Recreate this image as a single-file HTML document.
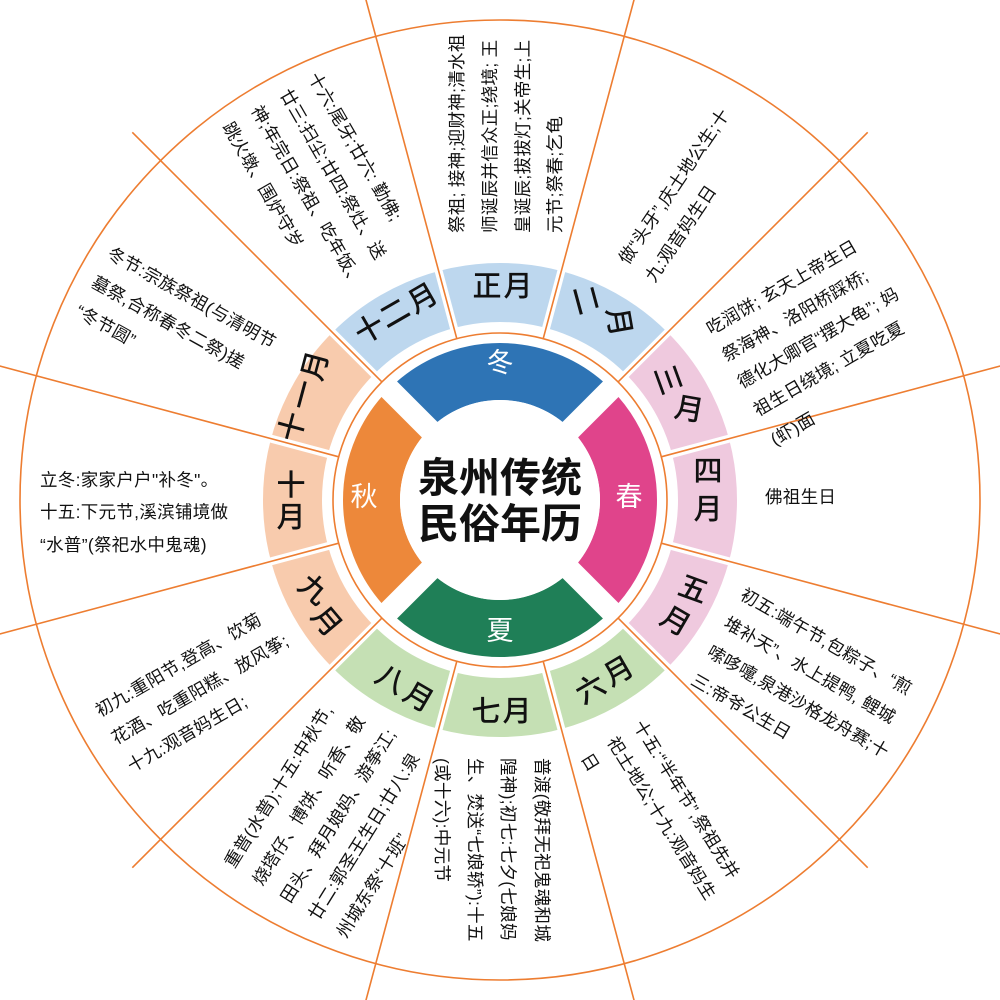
<!DOCTYPE html>
<html><head><meta charset="utf-8"><style>
html,body{margin:0;padding:0;background:#fff;}
svg{display:block;}
text{font-family:"Liberation Sans","Noto Sans CJK SC",sans-serif;}
.d{font-size:17.5px;letter-spacing:0.3px;fill:#111;dominant-baseline:central;}
.m{font-size:29px;font-weight:500;fill:#111;text-anchor:middle;dominant-baseline:central;}
.s{font-size:27px;fill:#fff;text-anchor:middle;dominant-baseline:central;}
</style></head><body>
<svg width="1000" height="1000" viewBox="0 0 1000 1000" xmlns="http://www.w3.org/2000/svg">
<rect width="1000" height="1000" fill="#fff"/>
<g fill="none" stroke-width="59">
<circle cx="500" cy="500" r="207.5" stroke="#bdd7ee" stroke-dasharray="325.94 977.82" transform="rotate(-135 500 500)"/>
<circle cx="500" cy="500" r="207.5" stroke="#efc9de" stroke-dasharray="325.94 977.82" transform="rotate(-45 500 500)"/>
<circle cx="500" cy="500" r="207.5" stroke="#c5e0b4" stroke-dasharray="325.94 977.82" transform="rotate(45 500 500)"/>
<circle cx="500" cy="500" r="207.5" stroke="#f8cbad" stroke-dasharray="325.94 977.82" transform="rotate(135 500 500)"/>
</g>
<g stroke="#fff" stroke-width="8">
<line x1="500" y1="500" x2="563.4" y2="263.4"/><line x1="500" y1="500" x2="673.2" y2="326.8"/>
<line x1="500" y1="500" x2="736.6" y2="436.6"/><line x1="500" y1="500" x2="736.6" y2="563.4"/>
<line x1="500" y1="500" x2="673.2" y2="673.2"/><line x1="500" y1="500" x2="563.4" y2="736.6"/>
<line x1="500" y1="500" x2="436.6" y2="736.6"/><line x1="500" y1="500" x2="326.8" y2="673.2"/>
<line x1="500" y1="500" x2="263.4" y2="563.4"/><line x1="500" y1="500" x2="263.4" y2="436.6"/>
<line x1="500" y1="500" x2="326.8" y2="326.8"/><line x1="500" y1="500" x2="436.6" y2="263.4"/>
</g>
<circle cx="500" cy="500" r="172" fill="#fff"/>
<g fill="none" stroke-width="57">
<circle cx="500" cy="500" r="128.5" stroke="#2e74b5" stroke-dasharray="201.85 605.55" transform="rotate(-135 500 500)"/>
<circle cx="500" cy="500" r="128.5" stroke="#e0448b" stroke-dasharray="201.85 605.55" transform="rotate(-45 500 500)"/>
<circle cx="500" cy="500" r="128.5" stroke="#1f7f57" stroke-dasharray="201.85 605.55" transform="rotate(45 500 500)"/>
<circle cx="500" cy="500" r="128.5" stroke="#ed883a" stroke-dasharray="201.85 605.55" transform="rotate(135 500 500)"/>
</g>
<g stroke="#fff" stroke-width="22">
<line x1="385.4" y1="385.4" x2="614.6" y2="614.6"/>
<line x1="614.6" y1="385.4" x2="385.4" y2="614.6"/>
</g>
<circle cx="500" cy="500" r="100" fill="#fff"/>
<g fill="none" stroke="#ed7d31" stroke-width="1.6">
<circle cx="500" cy="500" r="167"/>
<circle cx="500" cy="500" r="480"/>
<line x1="543.2" y1="338.7" x2="634.6" y2="-2.3"/>
<line x1="618.1" y1="381.9" x2="867.7" y2="132.3"/>
<line x1="661.3" y1="456.8" x2="1002.3" y2="365.4"/>
<line x1="661.3" y1="543.2" x2="1002.3" y2="634.6"/>
<line x1="618.1" y1="618.1" x2="867.7" y2="867.7"/>
<line x1="543.2" y1="661.3" x2="634.6" y2="1002.3"/>
<line x1="456.8" y1="661.3" x2="365.4" y2="1002.3"/>
<line x1="381.9" y1="618.1" x2="132.3" y2="867.7"/>
<line x1="338.7" y1="543.2" x2="-2.3" y2="634.6"/>
<line x1="338.7" y1="456.8" x2="-2.3" y2="365.4"/>
<line x1="381.9" y1="381.9" x2="132.3" y2="132.3"/>
<line x1="456.8" y1="338.7" x2="365.4" y2="-2.3"/>
</g>
<text x="500" y="478" text-anchor="middle" dominant-baseline="central" font-size="41" font-weight="bold" fill="#111">泉州传统</text>
<text x="500" y="524" text-anchor="middle" dominant-baseline="central" font-size="41" font-weight="bold" fill="#111">民俗年历</text>
<text class="s" x="500" y="363">冬</text>
<text class="s" x="629" y="497">春</text>
<text class="s" x="500" y="631">夏</text>
<text class="s" x="364" y="497">秋</text>
<text class="m" x="487" y="287">正</text><text class="m" x="518" y="287">月</text>
<text class="m" transform="translate(585,300) rotate(75)">二</text><text class="m" transform="translate(618,322) rotate(80)">月</text>
<text class="m" transform="translate(667,380) rotate(70)">三</text><text class="m" transform="translate(689,410) rotate(10)">月</text>
<text class="m" x="708" y="472">四</text><text class="m" x="708" y="510">月</text>
<text class="m" transform="translate(693,590) rotate(20)">五</text><text class="m" transform="translate(675,622) rotate(30)">月</text>
<text class="m" transform="translate(591,690) rotate(-30)">六</text><text class="m" transform="translate(619,672) rotate(-30)">月</text>
<text class="m" x="486" y="712">七</text><text class="m" x="517" y="712">月</text>
<text class="m" transform="translate(390,680) rotate(30)">八</text><text class="m" transform="translate(418,698) rotate(30)">月</text>
<text class="m" transform="translate(313,590) rotate(40)">九</text><text class="m" transform="translate(326,622) rotate(50)">月</text>
<text class="m" x="291" y="486">十</text><text class="m" x="291" y="518">月</text>
<text class="m" transform="translate(293,427) rotate(-75)">十</text><text class="m" transform="translate(304,395) rotate(-75)">一</text><text class="m" transform="translate(316,366) rotate(-75)">月</text>
<text class="m" transform="translate(370,330) rotate(-30)">十</text><text class="m" transform="translate(395,314) rotate(-30)">二</text><text class="m" transform="translate(423,299) rotate(-30)">月</text>
<text class="d" transform="translate(457,233) rotate(-90)"><tspan x="0" y="0">祭祖; 接神;迎财神;清水祖</tspan><tspan x="0" y="33">师诞辰并信众正;绕境; 王</tspan><tspan x="0" y="66">皇诞辰;拔拔灯;关帝生;上</tspan><tspan x="0" y="98">元节;祭春;乞龟</tspan></text>
<text class="d" transform="translate(623,262) rotate(-56)"><tspan x="0" y="0">做“头牙”,庆土地公生;十</tspan><tspan x="0" y="32">九:观音妈生日</tspan></text>
<text class="d" transform="translate(708,330) rotate(-30)"><tspan x="0" y="0">吃润饼; 玄天上帝生日</tspan><tspan x="0" y="31">祭海神、洛阳桥踩桥;</tspan><tspan x="0" y="62">德化大卿官“摆大龟”; 妈</tspan><tspan x="0" y="94">祖生日绕境; 立夏吃夏</tspan><tspan x="0" y="128">(虾)面</tspan></text>
<text class="d" x="765" y="497">佛祖生日</text>
<text class="d" transform="translate(742,593) rotate(30)"><tspan x="0" y="0">初五:端午节,包粽子、“煎</tspan><tspan x="0" y="33">堆补天”、水上提鸭, 鲤城</tspan><tspan x="0" y="66">嗦哆嚏,泉港沙格龙舟赛;十</tspan><tspan x="0" y="99">三:帝爷公生日</tspan></text>
<text class="d" transform="translate(638,722) rotate(58)"><tspan x="0" y="0">十五:“半年节”,祭祖先并</tspan><tspan x="0" y="31">祀土地公;十九:观音妈生</tspan><tspan x="0" y="62">日</tspan></text>
<text class="d" transform="translate(542,758) rotate(90)"><tspan x="0" y="0">普渡(敬拜无祀鬼魂和城</tspan><tspan x="0" y="34">隍神);初七:七夕(七娘妈</tspan><tspan x="0" y="67">生、焚送“七娘轿”):十五</tspan><tspan x="0" y="100">(或十六):中元节</tspan></text>
<text class="d" transform="translate(229,866) rotate(-58)"><tspan x="0" y="0">重普(水普);十五:中秋节,</tspan><tspan x="0" y="33">烧塔仔、博饼、听香、敬</tspan><tspan x="0" y="66">田头、拜月娘妈、游筝江;</tspan><tspan x="0" y="99">廿二:郭圣王生日;廿八:泉</tspan><tspan x="0" y="132">州城东祭“十班”</tspan></text>
<text class="d" transform="translate(97,712) rotate(-30)"><tspan x="0" y="0">初九:重阳节,登高、饮菊</tspan><tspan x="0" y="32">花酒、吃重阳糕、放风筝;</tspan><tspan x="0" y="64">十九:观音妈生日;</tspan></text>
<text class="d" x="40" y="480"><tspan x="40" y="480">立冬:家家户户"补冬"。</tspan><tspan x="40" y="512">十五:下元节,溪滨铺境做</tspan><tspan x="40" y="545">“水普”(祭祀水中鬼魂)</tspan></text>
<text class="d" transform="translate(109,252) rotate(29)"><tspan x="0" y="0">冬节:宗族祭祖(与清明节</tspan><tspan x="0" y="33">墓祭,合称春冬二祭)搓</tspan><tspan x="0" y="66">“冬节圆”</tspan></text>
<text class="d" transform="translate(313,74) rotate(60)"><tspan x="0" y="0">十六:尾牙;廿六: 勤佛;</tspan><tspan x="0" y="33">廿三:扫尘;廿四:祭灶、送</tspan><tspan x="0" y="66">神;年完日:祭祖、吃年饭、</tspan><tspan x="0" y="99">跳火墩、围炉守岁</tspan></text>
</svg>
</body></html>
